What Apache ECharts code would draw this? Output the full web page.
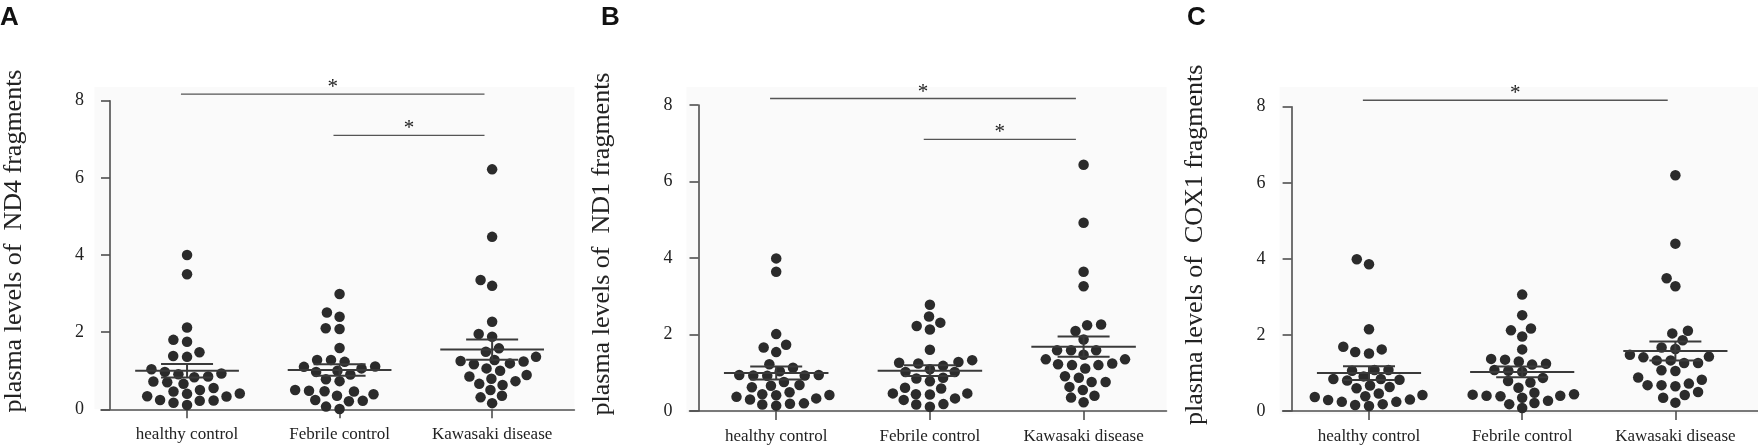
<!DOCTYPE html>
<html>
<head>
<meta charset="utf-8">
<script src="https://cdn.jsdelivr.net/npm/echarts@6/dist/echarts.min.js"></script>
<style>
html, body { margin: 0; padding: 0; background: #fff; }
#main { width: 1758px; height: 445px; }
</style>
</head>
<body>
<div id="main"></div>
<script>
var groups = ['healthy control', 'Febrile control', 'Kawasaki disease'];
var yTicks = [0, 2, 4, 6, 8];

// ND4
var nd4Healthy = [4.0, 3.5, 2.12, 1.8, 1.75, 1.48, 1.38, 1.36, 1.04, 0.97, 0.93, 0.91, 0.85, 0.83, 0.72,
    0.70, 0.66, 0.55, 0.50, 0.46, 0.41, 0.40, 0.34, 0.33, 0.24, 0.23, 0.22, 0.17, 0.11];
var nd4Febrile = [2.99, 2.51, 2.40, 2.10, 2.08, 1.59, 1.28, 1.28, 1.23, 1.11, 1.10, 1.06, 1.00, 0.97,
    0.90, 0.78, 0.73, 0.50, 0.48, 0.47, 0.46, 0.39, 0.35, 0.24, 0.22, 0.21, 0.07, 0.01];
var nd4Kawasaki = [6.22, 4.47, 3.35, 3.20, 2.27, 1.95, 1.88, 1.58, 1.49, 1.36, 1.28, 1.25, 1.24, 1.19,
    1.17, 1.06, 1.00, 0.89, 0.85, 0.79, 0.73, 0.66, 0.63, 0.50, 0.35, 0.31, 0.16];

// ND1
var nd1Healthy = [3.99, 3.64, 2.01, 1.73, 1.66, 1.54, 1.22, 1.13, 1.04, 0.94, 0.94, 0.93, 0.93, 0.92,
    0.76, 0.68, 0.66, 0.62, 0.49, 0.44, 0.42, 0.41, 0.37, 0.33, 0.30, 0.20, 0.19, 0.17, 0.14];
var nd1Febrile = [2.78, 2.47, 2.31, 2.22, 2.13, 1.60, 1.33, 1.28, 1.26, 1.24, 1.18, 1.09, 1.02, 1.02,
    0.87, 0.85, 0.78, 0.61, 0.59, 0.46, 0.46, 0.44, 0.43, 0.33, 0.29, 0.18, 0.17, 0.11];
var nd1Kawasaki = [6.44, 4.92, 3.64, 3.26, 2.26, 2.24, 2.09, 1.87, 1.59, 1.59, 1.59, 1.47, 1.35, 1.35,
    1.24, 1.22, 1.20, 1.20, 1.11, 0.91, 0.87, 0.76, 0.76, 0.63, 0.55, 0.40, 0.35, 0.23];

// COX1
var cox1Healthy = [3.99, 3.86, 2.15, 1.69, 1.62, 1.55, 1.51, 1.08, 1.08, 1.06, 0.91, 0.84, 0.84, 0.82,
    0.80, 0.67, 0.63, 0.60, 0.46, 0.42, 0.39, 0.37, 0.30, 0.29, 0.24, 0.24, 0.18, 0.16, 0.13];
var cox1Febrile = [3.06, 2.52, 2.17, 2.12, 1.96, 1.62, 1.37, 1.35, 1.30, 1.24, 1.22, 1.08, 1.06, 1.03,
    0.87, 0.79, 0.75, 0.61, 0.48, 0.44, 0.43, 0.40, 0.40, 0.39, 0.35, 0.27, 0.21, 0.18, 0.08];
var cox1Kawasaki = [6.20, 4.40, 3.49, 3.28, 2.11, 2.04, 1.86, 1.67, 1.63, 1.48, 1.43, 1.41, 1.33, 1.33,
    1.26, 1.26, 1.07, 1.05, 0.88, 0.82, 0.72, 0.68, 0.68, 0.65, 0.50, 0.42, 0.35, 0.22];

// significance bars: [from group, to group, height]
var nd4Brackets = [[0, 2, 8.17], [1, 2, 7.1]];
var nd1Brackets = [[0, 2, 8.17], [1, 2, 7.1]];
var cox1Brackets = [[0, 2, 8.17]];

var panels = [
    { letter: 'A', name: 'plasma levels of  ND4 fragments', sets: [nd4Healthy, nd4Febrile, nd4Kawasaki], brackets: nd4Brackets },
    { letter: 'B', name: 'plasma levels of  ND1 fragments', sets: [nd1Healthy, nd1Febrile, nd1Kawasaki], brackets: nd1Brackets },
    { letter: 'C', name: 'plasma levels of  COX1 fragments', sets: [cox1Healthy, cox1Febrile, cox1Kawasaki], brackets: cox1Brackets }
];

// layout (pixels)
var axisXs = [106.4, 698.5, 1291.6];   // y axis line
var tops = [100.7, 105, 106.7];        // y = 8
var bottoms = [409.3, 412.7, 414.3];   // y = 0
var letterXs = [0, 601, 1187];
var step = 153.7;       // px between groups
var firstCat = 77.7;    // y axis -> first group
var overhang = 9;       // x axis line left of y axis
var axisLen = 468;      // y axis -> end of x axis

var ink = '#2b2b2b';
var axisColor = '#4f4f4f';
var serif = "'Liberation Serif', 'Times New Roman', serif";

function meanSem(arr) {
    var n = arr.length, s = 0, ss = 0;
    arr.forEach(function (v) { s += v; });
    var m = s / n;
    arr.forEach(function (v) { ss += (v - m) * (v - m); });
    return [m, Math.sqrt(ss / (n - 1)) / Math.sqrt(n)];
}

// simple beeswarm in pixel space (y stretched so rows may sit closer), returns offsets in group units
function swarm(values, pxX, pxY, gap, yStretch) {
    var order = values.map(function (v, i) { return i; })
        .sort(function (a, b) { return values[a] - values[b]; });
    var placed = [];
    var offsets = new Array(values.length);
    order.forEach(function (idx) {
        var y = values[idx] * pxY * yStretch;
        var cands = [0];
        placed.forEach(function (p) {
            var dy = Math.abs(p.y - y);
            if (dy < gap) {
                var dx = Math.sqrt(gap * gap - dy * dy);
                cands.push(p.x - dx, p.x + dx);
            }
        });
        cands.sort(function (a, b) { return Math.abs(a) - Math.abs(b) || a - b; });
        var x = 0;
        for (var k = 0; k < cands.length; k++) {
            var ok = placed.every(function (p) {
                var dx = p.x - cands[k], dy = p.y - y;
                return dx * dx + dy * dy >= gap * gap - 0.01;
            });
            if (ok) { x = cands[k]; break; }
        }
        placed.push({ x: x, y: y });
        offsets[idx] = x / pxX;
    });
    return offsets;
}

var grids = [], xAxes = [], yAxes = [], series = [], graphics = [];

panels.forEach(function (p, pi) {
    var xmin = -(firstCat + overhang) / step;
    var xmax = (axisLen - firstCat) / step;
    var pxY = (bottoms[pi] - tops[pi]) / 8;

    grids.push({
        left: axisXs[pi] - overhang,
        top: tops[pi],
        width: axisLen + overhang,
        height: bottoms[pi] - tops[pi]
    });

    // faint plot backdrop
    graphics.push({
        type: 'rect',
        z: -10,
        silent: true,
        shape: { x: axisXs[pi] - 12, y: 87, width: axisLen + 12, height: bottoms[pi] - 87 },
        style: { fill: '#fafafa' }
    });

    xAxes.push({
        gridIndex: pi,
        type: 'value',
        min: xmin,
        max: xmax,
        axisLine: { onZero: false, lineStyle: { color: axisColor, width: 1.6 } },
        axisTick: { customValues: [0, 1, 2], length: 9, lineStyle: { color: axisColor, width: 1.6 } },
        axisLabel: {
            customValues: [0, 1, 2],
            formatter: function (v) { return groups[Math.round(v)]; },
            margin: 17,
            color: '#222',
            fontSize: 17,
            fontFamily: serif
        },
        splitLine: { show: false }
    });

    yAxes.push({
        gridIndex: pi,
        type: 'value',
        min: 0,
        max: 8,
        interval: 2,
        offset: -overhang,
        name: p.name,
        nameLocation: 'middle',
        nameGap: 83,
        nameTextStyle: { color: '#222', fontSize: 26, fontFamily: serif, padding: [0, 0, 0, 28] },
        axisLine: { show: true, onZero: false, lineStyle: { color: axisColor, width: 1.6 } },
        axisTick: { show: true, length: 9, lineStyle: { color: axisColor, width: 1.6 } },
        axisLabel: {
            margin: 26,
            color: '#222',
            fontSize: 18,
            fontFamily: serif,
            formatter: function (v) { return yTicks.indexOf(v) >= 0 ? String(v) : ''; }
        },
        splitLine: { show: false }
    });

    var points = [];
    var stats = [];
    p.sets.forEach(function (vals, gi) {
        var offs = swarm(vals, step, pxY, 14, 1.35);
        vals.forEach(function (v, k) { points.push([gi + offs[k], v]); });
        var ms = meanSem(vals);
        stats.push([gi, ms[0], ms[1]]);
    });

    series.push({
        type: 'scatter',
        xAxisIndex: pi,
        yAxisIndex: pi,
        symbolSize: 10.5,
        itemStyle: { color: ink, opacity: 1 },
        data: points,
        z: 2
    });

    // mean +/- SEM
    series.push({
        type: 'custom',
        xAxisIndex: pi,
        yAxisIndex: pi,
        z: 3,
        data: stats,
        renderItem: function (params, api) {
            var g = api.value(0), m = api.value(1), s = api.value(2);
            var a = api.coord([g - 0.34, m]);
            var b = api.coord([g + 0.34, m]);
            var hi = api.coord([g, m + s]);
            var lo = api.coord([g, m - s]);
            var cap = 26;
            var st = { stroke: '#3a3a3a', lineWidth: 2 };
            return {
                type: 'group',
                children: [
                    { type: 'line', shape: { x1: a[0], y1: a[1], x2: b[0], y2: b[1] }, style: st },
                    { type: 'line', shape: { x1: hi[0] - cap, y1: hi[1], x2: hi[0] + cap, y2: hi[1] }, style: st },
                    { type: 'line', shape: { x1: lo[0] - cap, y1: lo[1], x2: lo[0] + cap, y2: lo[1] }, style: st },
                    { type: 'line', shape: { x1: hi[0], y1: hi[1], x2: lo[0], y2: lo[1] }, style: st }
                ]
            };
        }
    });

    // significance bars
    series.push({
        type: 'custom',
        xAxisIndex: pi,
        yAxisIndex: pi,
        z: 3,
        clip: false,
        data: p.brackets,
        renderItem: function (params, api) {
            var s = api.coord([api.value(0) - 0.04, api.value(2)]);
            var e = api.coord([api.value(1) - 0.05, api.value(2)]);
            return {
                type: 'group',
                children: [
                    { type: 'line', shape: { x1: s[0], y1: s[1], x2: e[0], y2: e[1] }, style: { stroke: '#555', lineWidth: 1.3 } },
                    {
                        type: 'text',
                        style: {
                            text: '*', x: (s[0] + e[0]) / 2, y: s[1] + 4,
                            align: 'center', verticalAlign: 'bottom',
                            fontSize: 21, fontFamily: serif, fill: '#222'
                        }
                    }
                ]
            };
        }
    });

    graphics.push({
        type: 'text',
        left: letterXs[pi],
        top: 5,
        style: { text: p.letter, fontSize: 26, fontWeight: 'bold', fontFamily: "'Liberation Sans', Arial, sans-serif", fill: '#111' }
    });
});

var chart = echarts.init(document.getElementById('main'));
chart.setOption({
    animation: false,
    backgroundColor: '#fff',
    grid: grids,
    xAxis: xAxes,
    yAxis: yAxes,
    series: series,
    graphic: graphics
});
</script>
</body>
</html>
